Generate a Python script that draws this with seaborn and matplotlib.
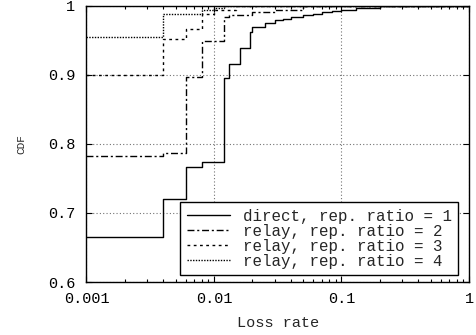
import matplotlib
matplotlib.use("Agg")
import matplotlib.pyplot as plt
import pandas as pd
import seaborn as sns
from matplotlib.ticker import LogLocator, NullFormatter

# CDF of loss rate (step curves)
direct_x = [0.001, 0.004, 0.006, 0.008, 0.012, 0.013, 0.016, 0.019, 0.02,
            0.025, 0.03, 0.035, 0.04, 0.05, 0.06, 0.07, 0.085, 0.1, 0.13,
            0.15, 0.2, 0.3, 1.0]
direct_y = [0.665, 0.72, 0.767, 0.773, 0.895, 0.916, 0.939, 0.962, 0.969,
            0.975, 0.979, 0.981, 0.983, 0.986, 0.988, 0.990, 0.992, 0.994,
            0.996, 0.997, 0.999, 1.0, 1.0]

relay2_x = [0.001, 0.004, 0.006, 0.008, 0.012, 0.013, 0.02, 0.03, 0.05, 1.0]
relay2_y = [0.783, 0.786, 0.897, 0.949, 0.983, 0.986, 0.990, 0.994, 1.0, 1.0]

relay3_x = [0.001, 0.004, 0.006, 0.008, 0.01, 0.015, 1.0]
relay3_y = [0.900, 0.952, 0.966, 0.988, 0.993, 1.0, 1.0]

relay4_x = [0.001, 0.004, 0.008, 0.01, 0.012, 1.0]
relay4_y = [0.954, 0.988, 0.993, 0.997, 1.0, 1.0]

labels = ["direct, rep. ratio = 1", "relay, rep. ratio = 2",
          "relay, rep. ratio = 3", "relay, rep. ratio = 4"]

x_ticks = [0.001, 0.01, 0.1, 1]
x_ticklabels = ["0.001", "0.01", "0.1", "1"]
y_ticks = [0.6, 0.7, 0.8, 0.9, 1.0]
y_ticklabels = ["0.6", "0.7", "0.8", "0.9", "1"]

sns.set_style("ticks")
plt.rcParams["font.family"] = ["Liberation Mono", "DejaVu Sans Mono"]

fig = plt.figure(figsize=(4.76, 3.35), dpi=100)
ax = fig.add_axes([0.1817, 0.158, 0.8036, 0.8254])

series = [
    (direct_x, direct_y, "-"),
    (relay2_x, relay2_y, (0, (5, 2, 1.5, 2))),
    (relay3_x, relay3_y, (0, (2, 2.5))),
    (relay4_x, relay4_y, (0, (1, 1))),
]
for (xs, ys, ls), lab in zip(series, labels):
    df = pd.DataFrame({"loss": xs, "cdf": ys})
    sns.lineplot(data=df, x="loss", y="cdf", ax=ax, color="black",
                 linestyle=ls, linewidth=1.0, drawstyle="steps-post",
                 estimator=None, sort=False, label=lab, zorder=3)

ax.set_xscale("log")
ax.set_xlim(0.001, 1)
ax.set_ylim(0.6, 1.0)
ax.set_xticks(x_ticks, x_ticklabels)
ax.xaxis.set_minor_locator(LogLocator(base=10, subs=range(2, 10)))
ax.xaxis.set_minor_formatter(NullFormatter())
ax.set_yticks(y_ticks, y_ticklabels)

ax.tick_params(which="both", direction="in", top=True, right=True,
               colors="black", labelsize=11, width=0.8)
ax.tick_params(which="major", length=4.5)
ax.tick_params(which="minor", length=2.5)
ax.tick_params(axis="x", pad=7)
ax.tick_params(axis="y", pad=8)

for sp in ax.spines.values():
    sp.set_color("black")
    sp.set_linewidth(1.0)

ax.grid(True, which="major", color="0.45", linestyle=(0, (1, 2)), linewidth=0.8)
ax.set_axisbelow(True)

ax.set_xlabel("Loss rate", fontsize=11)
ax.set_ylabel("CDF", fontsize=8)
ax.xaxis.set_label_coords(0.5, -0.122)
ax.yaxis.set_label_coords(-0.158, 0.5)

leg = ax.legend(loc="lower right", bbox_to_anchor=(0.972, 0.0253),
                fontsize=11.4, frameon=True, fancybox=False, framealpha=1,
                edgecolor="black", handlelength=2.75, handletextpad=0.8,
                labelspacing=0.0, borderpad=0.4, borderaxespad=0,
                markerfirst=True)
leg.get_frame().set_linewidth(1.0)

fig.savefig("out.png", dpi=100)
